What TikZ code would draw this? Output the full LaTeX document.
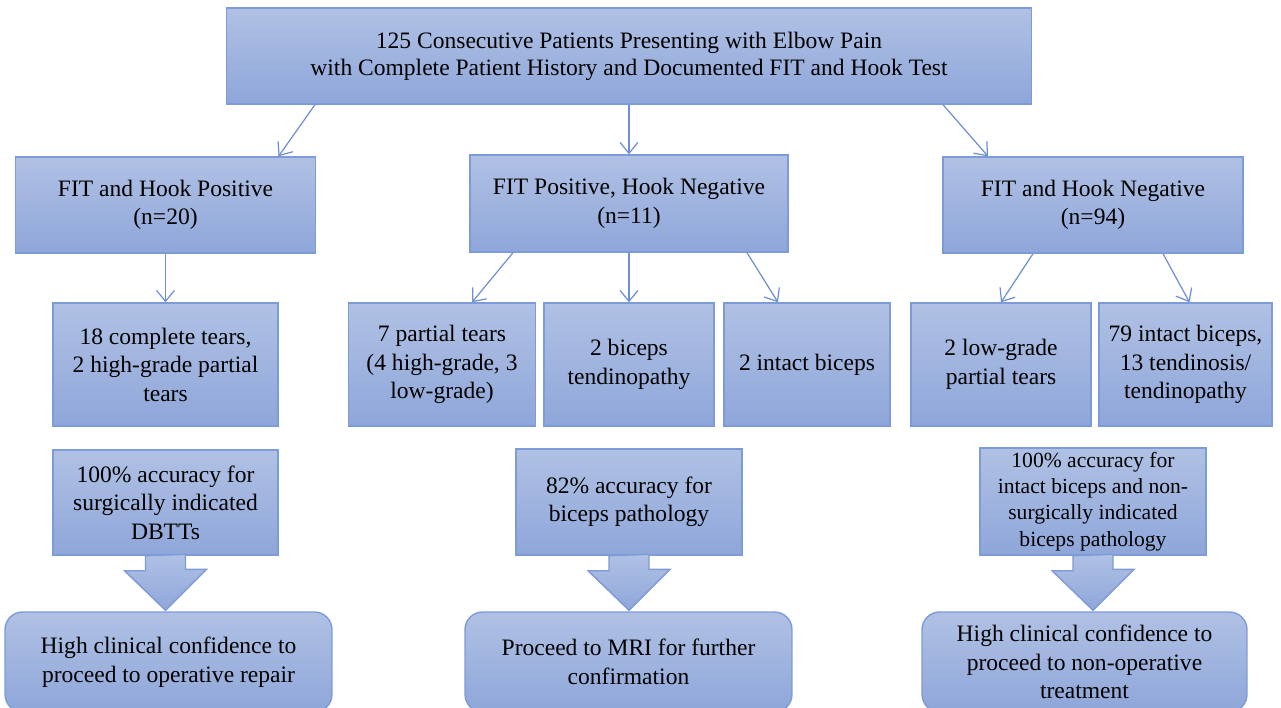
\documentclass[tikz,border=0pt]{standalone}
\usepackage{fontspec}
\setmainfont{Liberation Serif}
\usetikzlibrary{calc,arrows.meta}
\definecolor{boxtop}{HTML}{B0C1E4}
\definecolor{boxbot}{HTML}{8EA6D9}
\definecolor{boxline}{HTML}{7C9BD8}
\definecolor{linkblue}{HTML}{6F8FD4}
\tikzset{
	box/.style={draw=boxline, line width=0.8pt, top color=boxtop, bottom color=boxbot,
		align=center, inner sep=2pt, font=\fontsize{13.4}{16.2}\selectfont},
	endbox/.style={box, rounded corners=10pt},
	link/.style={draw=linkblue, line width=0.7pt, -{Straight Barb[length=2.2mm,width=3.6mm]}},
	bigarrow/.style={draw=boxline, line width=0.8pt, top color=boxtop, bottom color=boxbot},
}

\begin{document}
\begin{tikzpicture}[x=0.02cm, y=-0.02cm]
		\useasboundingbox (0,0) rectangle (1281,707);
		\clip (0,0) rectangle (1281,707);

		\node[box, minimum width=16.1cm, minimum height=1.92cm, font=\fontsize{13.4}{15.4}\selectfont] (top) at (629, 56)
			{125 Consecutive Patients Presenting with Elbow Pain\\with Complete Patient History and Documented FIT and Hook Test};

		\node[box, minimum width=6cm, minimum height=1.92cm] (fitpos) at (165.5, 205) {FIT and Hook Positive\\(n=20)};
		\node[box, minimum width=6.36cm, minimum height=1.94cm] (fitmix) at (629, 203.5) {FIT Positive, Hook Negative\\(n=11)};
		\node[box, minimum width=6cm, minimum height=1.92cm] (fitneg) at (1093, 205) {FIT and Hook Negative\\(n=94)};

		\node[box, minimum width=4.5cm, minimum height=2.46cm] (complete) at (165.5, 364.5) {18 complete tears,\\2 high-grade partial\\tears};
		\node[box, minimum width=3.74cm, minimum height=2.46cm] (partial) at (442, 364.5) {7 partial tears\\(4 high-grade, 3\\low-grade)};
		\node[box, minimum width=3.4cm, minimum height=2.46cm] (tendino) at (629, 364.5) {2 biceps\\tendinopathy};
		\node[box, minimum width=3.32cm, minimum height=2.46cm] (intact) at (807, 364.5) {2 intact biceps};
		\node[box, minimum width=3.6cm, minimum height=2.46cm] (lowgrade) at (1001, 364.5) {2 low-grade\\partial tears};
		\node[box, minimum width=3.46cm, minimum height=2.46cm] (intactmix) at (1185.5, 364.5) {79 intact biceps,\\13 tendinosis/\\tendinopathy};

		\node[box, minimum width=4.5cm, minimum height=2.1cm] (accpos) at (165.5, 502.5) {100\% accuracy for\\surgically indicated\\DBTTs};
		\node[box, minimum width=4.52cm, minimum height=2.12cm] (accmix) at (629, 502) {82\% accuracy for\\biceps pathology};
		\node[box, minimum width=4.52cm, minimum height=2.14cm, font=\fontsize{12.3}{15}\selectfont] (accneg) at (1093, 501.5)
			{100\% accuracy for\\intact biceps and non-\\surgically indicated\\biceps pathology};

		\node[endbox, minimum width=6.54cm, minimum height=2cm] (operative) at (168.5, 662) {High clinical confidence to\\proceed to operative repair};
		\node[endbox, minimum width=6.54cm, minimum height=2cm] (mri) at (628.5, 662) {Proceed to MRI for further\\confirmation};
		\node[endbox, minimum width=6.5cm, minimum height=2cm] (nonop) at (1084.5, 662) {High clinical confidence to\\proceed to non-operative\\treatment};

		\draw[link] ($(top.south)+(-314,0)$) -- ($(fitpos.north)+(113,0)$);
		\draw[link] (top.south) -- (fitmix.north);
		\draw[link] ($(top.south)+(314,0)$) -- ($(fitneg.north)+(-105,0)$);

		\draw[link] (fitpos.south) -- (complete.north);
		\draw[link] ($(fitmix.south)+(-116,0)$) -- ($(partial.north)+(30,0)$);
		\draw[link] (fitmix.south) -- (tendino.north);
		\draw[link] ($(fitmix.south)+(118,0)$) -- ($(intact.north)+(-29,0)$);
		\draw[link] ($(fitneg.south)+(-60,0)$) -- (lowgrade.north);
		\draw[link] ($(fitneg.south)+(70,0)$) -- ($(intactmix.north)+(4,0)$);

		\foreach \from/\to in {accpos/operative, accmix/mri, accneg/nonop}
			\draw[bigarrow] (\from.south) ++(-20,0) -- ++(0,15) -- ++(-21,0)
				-- ($(\from.south |- \to.north)+(0,-1)$) -- ++(41,-41) -- ++(-21,0) -- ++(0,-15) -- cycle;
	\end{tikzpicture}
\end{document}
